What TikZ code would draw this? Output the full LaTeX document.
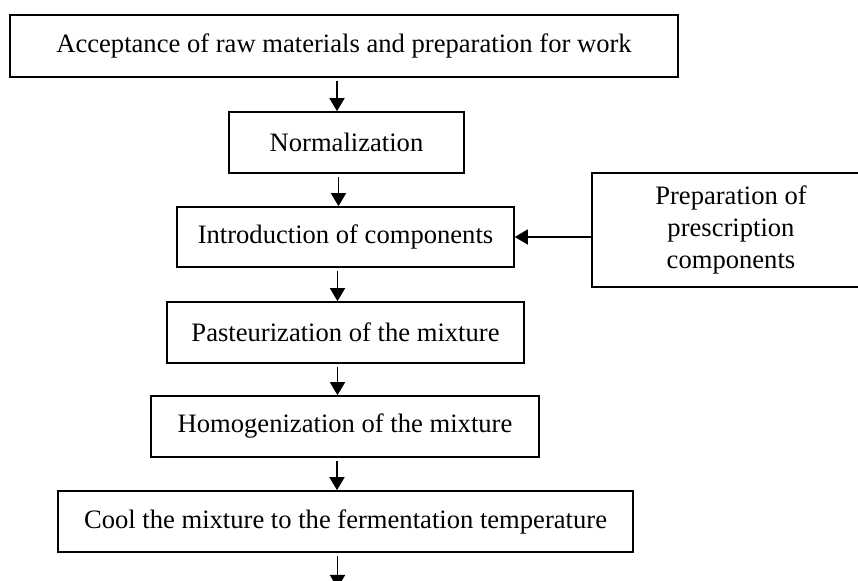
\documentclass[tikz,border=0pt]{standalone}
\usepackage{fontspec}
\setmainfont{Liberation Serif}
\usetikzlibrary{arrows.meta}

\begin{document}
\begin{tikzpicture}[x=0.5pt,y=-0.5pt,
  stage/.style={draw, line width=0.8pt, inner sep=0pt, align=center,
    font=\fontsize{13.3}{15.8}\selectfont},
  flow/.style={line width=0.8pt, shorten <=1.5pt,
    -{Triangle[length=6.5pt,width=7.5pt]}}]
\clip (0,0) rectangle (858,581);

% main line
\node[stage, minimum width=334pt, minimum height=31pt] (accept) at (344,46)
  {Acceptance of raw materials and preparation for work};
\node[stage, minimum width=117.5pt, minimum height=30.5pt] (norm) at (346.5,142.5)
  {Normalization};
\node[stage, minimum width=168.5pt, minimum height=30pt] (intro) at (345.5,237)
  {Introduction of components};
\node[stage, minimum width=178.5pt, minimum height=30.5pt] (past) at (345.5,332.5)
  {Pasteurization of the mixture};
\node[stage, minimum width=194pt, minimum height=30.5pt] (homog) at (345,426.5)
  {Homogenization of the mixture};
\node[stage, minimum width=287.5pt, minimum height=30.5pt] (cool) at (345.5,521.5)
  {Cool the mixture to the fermentation temperature};

% side box
\node[stage, minimum width=139pt, minimum height=57pt] (prep) at (731,230)
  {Preparation of\\prescription\\components};

\coordinate (out) at (337.5,588);

\draw[flow] ([xshift=-3.5pt]accept.south) -- ([xshift=-3.5pt]accept.south |- norm.north);
\draw[flow] ([xshift=-4pt]norm.south) -- ([xshift=-4pt]norm.south |- intro.north);
\draw[flow] ([xshift=-4pt]intro.south) -- ([xshift=-4pt]intro.south |- past.north);
\draw[flow] ([xshift=-4pt]past.south) -- ([xshift=-4pt]past.south |- homog.north);
\draw[flow] ([xshift=-4pt]homog.south) -- ([xshift=-4pt]homog.south |- cool.north);
\draw[flow] ([xshift=-4pt]cool.south) -- (out);
\draw[flow, shorten <=0pt] (prep.west |- intro.east) -- (intro.east);

\end{tikzpicture}
\end{document}
